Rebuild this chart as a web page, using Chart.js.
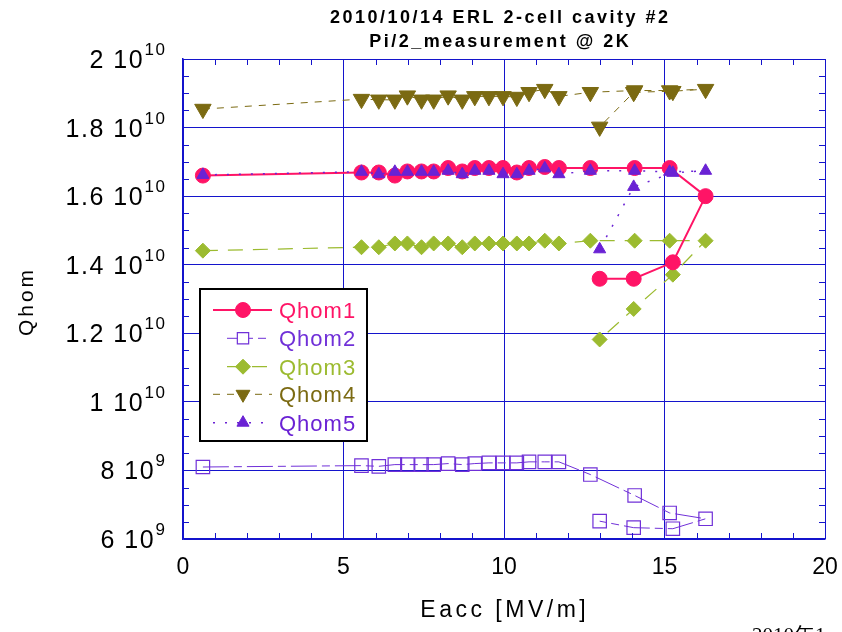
<!DOCTYPE html>
<html>
<head>
<meta charset="utf-8">
<script src="https://cdn.jsdelivr.net/npm/chart.js@4.4.0/dist/chart.umd.min.js"></script>
<style>
html, body { margin: 0; padding: 0; background: #fff; overflow: hidden; }
canvas { display: block; }
</style>
</head>
<body>
<canvas id="qhomChart" width="842" height="632"></canvas>
<script>
// Eacc [MV/m]: sweep up to 16.3, then back down
const eacc = [0.62, 5.56, 6.10, 6.60, 6.99, 7.43, 7.81, 8.26, 8.70, 9.09, 9.53, 9.97,
    10.40, 10.78, 11.27, 11.71, 12.69, 14.07, 15.16, 16.28, 15.26, 14.04, 12.98];

// Q values in units of 1e9
const qhom1 = [16.60, 16.69, 16.69, 16.60, 16.72, 16.72, 16.72, 16.82, 16.72, 16.82, 16.82, 16.82,
    16.69, 16.82, 16.85, 16.82, 16.82, 16.82, 16.82, 16.00, 14.07, 13.59, 13.59];
const qhom2 = [8.10, 8.14, 8.12, 8.17, 8.17, 8.17, 8.17, 8.20, 8.17, 8.20, 8.22, 8.22,
    8.22, 8.25, 8.25, 8.25, 7.88, 7.27, 6.76, 6.59, 6.30, 6.33, 6.52];
const qhom3 = [14.41, 14.51, 14.51, 14.62, 14.62, 14.51, 14.62, 14.62, 14.51, 14.62, 14.62, 14.62,
    14.62, 14.62, 14.70, 14.62, 14.70, 14.70, 14.70, 14.70, 13.71, 12.71, 11.82];
const qhom4 = [18.54, 18.83, 18.81, 18.81, 18.93, 18.81, 18.81, 18.93, 18.81, 18.91, 18.91, 18.91,
    18.89, 19.03, 19.12, 18.91, 19.03, 19.08, 19.08, 19.12, 19.06, 19.03, 18.02];
const qhom5 = [16.62, 16.71, 16.64, 16.71, 16.71, 16.71, 16.71, 16.74, 16.64, 16.74, 16.74, 16.64,
    16.64, 16.74, 16.81, 16.64, 16.74, 16.74, 16.71, 16.74, 16.68, 16.27, 14.45];

const seriesNames = ['Qhom1', 'Qhom2', 'Qhom3', 'Qhom4', 'Qhom5'];
const titleLines = ['2010/10/14 ERL 2-cell cavity #2', 'Pi/2_measurement @ 2K'];
const xTickLabels = ['0', '5', '10', '15', '20'];
const yTickBase = ['6', '8', '1', '1.2', '1.4', '1.6', '1.8', '2'];
const yTickExp = ['9', '9', '10', '10', '10', '10', '10', '10'];
const xTitle = 'Eacc [MV/m]';
const yTitle = 'Qhom';
const stampText = '2010年1';

const FONT = '"Liberation Sans", Arial, sans-serif';
const BLUE = '#1414cc';

const styles = [
    { color: '#ff1466', width: 2,   dash: [],            point: 'circle',  rot: 0,   r: 7.5, fill: true,  order: 1 },
    { color: '#7030d8', width: 1,   dash: [26, 5, 8, 5], point: 'rect',    rot: 0,   r: 9.5, fill: false, order: 4 },
    { color: '#9cbb30', width: 1.2, dash: [15, 10],      point: 'rectRot', rot: 0,   r: 7.5, fill: true,  order: 3 },
    { color: '#7b6a12', width: 1,   dash: [7, 7],        point: 'triangle', rot: 180, r: 9.5, fill: true, order: 2 },
    { color: '#6a22d4', width: 1.5, dash: [2, 10],       point: 'triangle', rot: 0,   r: 7,   fill: true,  order: 0 }
];

function text(ctx, s, x, y, font, color, spacing, align) {
    ctx.save();
    ctx.font = font;
    ctx.fillStyle = color;
    ctx.letterSpacing = (spacing || 0) + 'px';
    ctx.textAlign = align || 'left';
    ctx.textBaseline = 'alphabetic';
    const shift = align === 'center' ? (spacing || 0) / 2 : 0;
    ctx.fillText(s, x + shift, y);
    ctx.restore();
}

function textWidth(ctx, s, font, spacing) {
    ctx.save();
    ctx.font = font;
    ctx.letterSpacing = '0px';
    const w = ctx.measureText(s).width + spacing * (s.length - 1);
    ctx.restore();
    return w;
}

const decorPlugin = {
    id: 'decor',
    afterDatasetsDraw(chart) {
        const ctx = chart.ctx;
        const xs = chart.scales.x, ys = chart.scales.y;
        const a = chart.chartArea;

        // minor ticks
        ctx.save();
        ctx.strokeStyle = BLUE;
        ctx.lineWidth = 1;
        ctx.beginPath();
        for (let v = 1; v < 20; v++) {
            if (v % 5 === 0) continue;
            const px = Math.round(xs.getPixelForValue(v)) + 0.5;
            ctx.moveTo(px, a.bottom); ctx.lineTo(px, a.bottom - 6);
            ctx.moveTo(px, a.top); ctx.lineTo(px, a.top + 6);
        }
        for (let k = 13; k < 40; k++) {
            if (k % 4 === 0) continue;
            const py = Math.round(ys.getPixelForValue(k / 2)) + 0.5;
            ctx.moveTo(a.left, py); ctx.lineTo(a.left + 6, py);
            ctx.moveTo(a.right, py); ctx.lineTo(a.right - 6, py);
        }
        ctx.stroke();
        ctx.restore();

        // legend
        const lx = 200, ly = 289, lw = 167, lh = 152;
        ctx.save();
        ctx.fillStyle = '#fff';
        ctx.fillRect(lx, ly, lw, lh);
        ctx.strokeStyle = '#000';
        ctx.lineWidth = 2;
        ctx.strokeRect(lx, ly, lw, lh);
        ctx.restore();
        const rows = [310, 338.3, 366.7, 394.3, 422.7];
        const spans = [[213, 272], [227, 269], [227, 269], [213, 272], [213, 272]];
        seriesNames.forEach((name, i) => {
            const st = styles[i];
            const cy = rows[i];
            ctx.save();
            ctx.strokeStyle = st.color;
            ctx.lineWidth = st.width;
            ctx.setLineDash(st.dash);
            ctx.beginPath();
            ctx.moveTo(spans[i][0], cy);
            ctx.lineTo(spans[i][1], cy);
            ctx.stroke();
            ctx.setLineDash([]);
            ctx.fillStyle = st.fill ? st.color : '#fff';
            ctx.lineWidth = st.fill ? 1 : 1.2;
            Chart.helpers.drawPoint(ctx, { pointStyle: st.point, rotation: st.rot, radius: Math.min(st.r, 8), borderWidth: ctx.lineWidth }, 243, cy);
            ctx.restore();
            text(ctx, name, 279, cy + 8, '22px ' + FONT, st.color, 1, 'left');
        });
    },
    afterDraw(chart) {
        const ctx = chart.ctx;
        const xs = chart.scales.x, ys = chart.scales.y;

        // title
        text(ctx, titleLines[0], 499, 22.7, 'bold 18px ' + FONT, '#000', 2.5, 'center');
        text(ctx, titleLines[1], 499, 46.7, 'bold 18px ' + FONT, '#000', 2.5, 'center');

        // x tick labels
        xs.ticks.forEach((t, i) => {
            text(ctx, xTickLabels[i], xs.getPixelForValue(t.value), 574, '23px ' + FONT, '#000', 0, 'center');
        });

        // y tick labels with exponents
        const right = 165;
        ys.ticks.forEach((t, i) => {
            const py = ys.getPixelForValue(t.value);
            const main = yTickBase[i] + ' 10';
            const wSup = textWidth(ctx, yTickExp[i], '17px ' + FONT, 1.5);
            const wMain = textWidth(ctx, main, '25px ' + FONT, 1.5);
            text(ctx, yTickExp[i], right - wSup, py - 4, '17px ' + FONT, '#000', 1.5, 'left');
            text(ctx, main, right - wSup - wMain - 2, py + 9, '25px ' + FONT, '#000', 1.5, 'left');
        });

        // axis titles
        text(ctx, xTitle, 503, 617, '23px ' + FONT, '#000', 3.5, 'center');
        ctx.save();
        ctx.translate(33, 303);
        ctx.rotate(-Math.PI / 2);
        text(ctx, yTitle, 0, 0, '21px ' + FONT, '#000', 3, 'center');
        ctx.restore();

        // date stamp, cut by the page edge
        text(ctx, stampText, 752, 642, '21px "Liberation Serif", serif', '#000', 0, 'left');
    }
};

function buildDatasets() {
    const series = [qhom1, qhom2, qhom3, qhom4, qhom5];
    return series.map((vals, i) => {
        const st = styles[i];
        return {
            label: seriesNames[i],
            data: eacc.map((x, j) => ({ x: x, y: vals[j] })),
            showLine: true,
            tension: 0,
            borderColor: st.color,
            borderWidth: st.width,
            borderDash: st.dash,
            pointStyle: st.point,
            pointRotation: st.rot,
            pointRadius: st.r,
            pointHoverRadius: st.r,
            pointBackgroundColor: st.fill ? st.color : 'rgba(0,0,0,0)',
            pointBorderColor: st.color,
            pointBorderWidth: st.fill ? 1 : 1.2,
            order: st.order
        };
    });
}

const chart = new Chart(document.getElementById('qhomChart'), {
    type: 'scatter',
    data: { datasets: buildDatasets() },
    options: {
        responsive: false,
        animation: false,
        devicePixelRatio: 1,
        layout: { padding: { left: 0, right: 17, top: 59, bottom: 0 } },
        plugins: { legend: { display: false }, tooltip: { enabled: false }, title: { display: false } },
        scales: {
            x: {
                type: 'linear', min: 0, max: 20,
                ticks: { display: false, stepSize: 5 },
                grid: { color: BLUE, lineWidth: 1, drawTicks: false },
                border: { color: BLUE, width: 1.5 },
                afterFit(s) { s.height = 93; }
            },
            y: {
                type: 'linear', min: 6, max: 20,
                ticks: { display: false, stepSize: 2 },
                grid: { color: BLUE, lineWidth: 1, drawTicks: false },
                border: { color: BLUE, width: 1.5 },
                afterFit(s) { s.width = 183; }
            }
        }
    },
    plugins: [decorPlugin]
});
</script>
</body>
</html>
